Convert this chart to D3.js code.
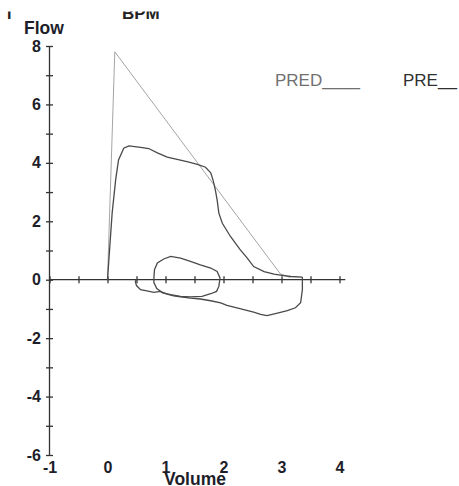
<!DOCTYPE html>
<html>
<head>
<meta charset="utf-8">
<script src="https://d3js.org/d3.v7.min.js"></script>
<style>
  body { margin: 0; background: #fff; }
  svg { display: block; background: #fff; }
  text { font-family: "Liberation Sans", Arial, sans-serif; }
</style>
</head>
<body>
<div id="chartHere"></div>
<script>
// predicted curve (volume L, flow L/s)
var predVol  = [0, 0.126, 2.98, 3.15];
var predFlow = [0, 7.8, 0.2, 0.08];

// measured expiration
var expVol  = [0, 0.04, 0.08, 0.14, 0.19, 0.28, 0.37, 0.57, 0.71, 0.86, 1.03, 1.20, 1.37, 1.55, 1.69, 1.78, 1.82, 1.86, 1.89, 1.92, 1.98, 2.12, 2.29, 2.41, 2.52, 2.70, 2.87, 3.01, 3.16, 3.36];
var expFlow = [0, 1.14, 2.28, 3.41, 4.10, 4.50, 4.58, 4.53, 4.49, 4.34, 4.20, 4.12, 4.04, 3.95, 3.85, 3.66, 3.41, 3.07, 2.73, 2.28, 1.93, 1.48, 1.02, 0.74, 0.45, 0.28, 0.19, 0.15, 0.11, 0.09];

// measured inspiration
var inspVol  = [3.36, 3.36, 3.33, 3.24, 3.10, 2.93, 2.75, 2.64, 2.52, 2.35, 2.18, 2.06, 1.95, 1.78, 1.60, 1.43, 1.26, 1.14, 1.03, 0.91, 0.80, 0.68, 0.57, 0.50, 0.48, 0.50];
var inspFlow = [0.09, -0.34, -0.79, -0.96, -1.06, -1.14, -1.23, -1.19, -1.11, -1.02, -0.94, -0.88, -0.79, -0.72, -0.66, -0.63, -0.59, -0.55, -0.49, -0.40, -0.43, -0.38, -0.34, -0.20, -0.06, 0.02];

// tidal loop
var tidalVol  = [0.80, 0.81, 0.86, 0.97, 1.09, 1.26, 1.43, 1.60, 1.78, 1.89, 1.94, 1.92, 1.88, 1.78, 1.63, 1.43, 1.26, 1.09, 0.95, 0.85, 0.80, 0.80];
var tidalFlow = [0.06, 0.34, 0.57, 0.71, 0.80, 0.74, 0.63, 0.51, 0.40, 0.28, 0.06, -0.23, -0.40, -0.48, -0.57, -0.59, -0.57, -0.51, -0.45, -0.30, -0.10, 0.06];

var yTicks = [-6, -5, -4, -3, -2, -1, 0, 1, 2, 3, 4, 5, 6, 7, 8];
var xTicks = [-1, -0.5, 0, 0.5, 1, 1.5, 2, 2.5, 3, 3.5, 4];
var xLabels = [-1, 0, 1, 2, 3, 4];

var dims = {width: 459, height: 486};

var svg = d3.select("#chartHere").append("svg")
    .attr("width", dims.width)
    .attr("height", dims.height);

var x = d3.scaleLinear().domain([-1, 4]).range([49.5, 339.5]);
var y = d3.scaleLinear().domain([-6, 8]).range([455, 46]);

// y axis, ticks crossing the line
var yAxis = d3.axisLeft(y)
    .tickValues(yTicks)
    .tickSize(3.5)
    .tickPadding(5)
    .tickFormat(function(d) { return d % 2 === 0 ? String(d) : ""; });
var gy = svg.append("g")
    .attr("transform", "translate(" + x(-1) + ",0)")
    .call(yAxis);
gy.select(".domain").attr("d", "M0," + y(8) + "V" + y(-6));
gy.selectAll(".tick line").attr("x1", 3.5);
gy.selectAll("text")
    .style("font-size", "16px").style("font-weight", "bold").attr("fill", "#1e1e2a");

// x axis through zero
var xAxis = d3.axisBottom(x)
    .tickValues(xTicks)
    .tickSize(3.5)
    .tickFormat("");
var gx = svg.append("g")
    .attr("transform", "translate(0," + y(0) + ")")
    .call(xAxis);
gx.select(".domain").attr("d", "M" + x(-1) + ",0H" + x(4.1));
gx.selectAll(".tick line").attr("y1", -3.5);

// volume labels at the bottom
var gxl = svg.append("g")
    .attr("transform", "translate(0," + y(-6) + ")")
    .call(d3.axisBottom(x).tickValues(xLabels).tickSize(0).tickPadding(6.5)
        .tickFormat(function(d) { return String(d); }));
gxl.select(".domain").remove();
gxl.selectAll("text")
    .style("font-size", "16px").style("font-weight", "bold").attr("fill", "#1e1e2a");

svg.selectAll(".domain, .tick line")
    .attr("stroke", "#333").attr("stroke-width", 1.3);

var line = d3.line()
    .x(function(d) { return x(d[0]); })
    .y(function(d) { return y(d[1]); });

function pts(vs, fs) { return vs.map(function(v, i) { return [v, fs[i]]; }); }

svg.append("path")
    .attr("d", line(pts(predVol, predFlow)))
    .attr("fill", "none").attr("stroke", "#9a9a9a").attr("stroke-width", 0.9);

svg.append("path")
    .attr("d", line(pts(expVol, expFlow)))
    .attr("fill", "none").attr("stroke", "#4a4a4a").attr("stroke-width", 1.3);

svg.append("path")
    .attr("d", line(pts(inspVol, inspFlow)))
    .attr("fill", "none").attr("stroke", "#4a4a4a").attr("stroke-width", 1.3);

svg.append("path")
    .attr("d", line(pts(tidalVol, tidalFlow)))
    .attr("fill", "none").attr("stroke", "#4a4a4a").attr("stroke-width", 1.3);

// titles
svg.append("text").attr("x", 24).attr("y", 34)
    .style("font-size", "17.5px").style("font-weight", "bold").attr("fill", "#1e1e2a")
    .text("Flow");
svg.append("text").attr("x", 195).attr("y", 485).attr("text-anchor", "middle")
    .style("font-size", "17.5px").style("font-weight", "bold").attr("fill", "#1e1e2a")
    .text("Volume");

svg.append("text").attr("x", 275).attr("y", 86)
    .style("font-size", "17px").attr("fill", "#707070")
    .text("PRED____");
svg.append("text").attr("x", 403).attr("y", 86)
    .style("font-size", "17px").attr("fill", "#303030")
    .text("PRE__");

// cut-off header text from the scan
svg.append("text").attr("x", 122).attr("y", 19)
    .style("font-size", "17px").style("font-weight", "bold").attr("fill", "#222")
    .text("BPM");
svg.append("text").attr("x", 7).attr("y", 19)
    .style("font-size", "16px").style("font-weight", "bold").attr("fill", "#222")
    .text("I");
svg.append("rect").attr("x", 0).attr("y", 0).attr("width", dims.width).attr("height", 11.5)
    .attr("fill", "#fff");
</script>
</body>
</html>
